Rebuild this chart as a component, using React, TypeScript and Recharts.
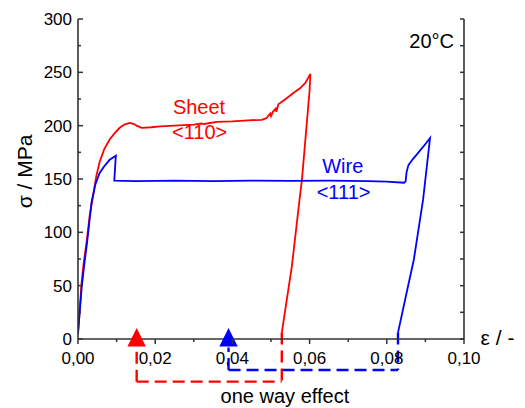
import React from 'react';
import { ComposedChart, Line, XAxis, YAxis, ReferenceLine, ReferenceDot } from 'recharts';

// Sheet <110> stress-strain curve (strain, stress in MPa)
const sheetStrain = [0, 0.0005, 0.0009, 0.0015, 0.0022, 0.003, 0.0039, 0.0047, 0.0056, 0.0068, 0.0082, 0.0095, 0.0108, 0.012, 0.0134, 0.0145, 0.0152, 0.0165, 0.019, 0.0212, 0.025, 0.03, 0.032, 0.0325, 0.0342, 0.036, 0.04, 0.044, 0.0476, 0.0488, 0.0498, 0.05, 0.0505, 0.0512, 0.0514, 0.0519, 0.0538, 0.0558, 0.0575, 0.0589, 0.0602, 0.06, 0.058, 0.0574, 0.0554, 0.0528];
const sheetStress = [5, 30, 52, 72, 90, 115, 134, 152, 166, 178, 187, 193, 198, 201, 202.5, 201.5, 200, 198, 198.5, 199.3, 200, 201, 202, 201.5, 202.5, 203.5, 204, 205, 205.5, 207, 211.5, 209, 213, 216, 213, 220, 225, 230.6, 235, 240, 248.5, 233, 148.7, 131, 68, 6];

// Wire <111> stress-strain curve
const wireStrain = [0, 0.0005, 0.001, 0.0017, 0.0024, 0.0035, 0.0045, 0.0056, 0.0068, 0.0082, 0.0098, 0.0094, 0.015, 0.025, 0.035, 0.045, 0.055, 0.065, 0.075, 0.08, 0.0845, 0.0849, 0.0851, 0.0856, 0.0866, 0.088, 0.0896, 0.0912, 0.0894, 0.087, 0.0853, 0.0829];
const wireStress = [5, 28, 50, 72, 92, 128, 145, 155.6, 162, 168, 171.8, 148.4, 148, 148.5, 148, 148.5, 148.2, 148.5, 148, 147.5, 146.5, 148, 156, 163, 168, 174, 181, 188.4, 130.6, 74.3, 46.2, 6];

// Recovered strain markers (one way effect)
const sheetRecoveredStrain = 0.0152;
const sheetUnloadedStrain = 0.0528;
const wireRecoveredStrain = 0.039;
const wireUnloadedStrain = 0.0829;

const xTicks = [0, 0.01, 0.02, 0.03, 0.04, 0.05, 0.06, 0.07, 0.08, 0.09, 0.1];
const yTicks = [0, 25, 50, 75, 100, 125, 150, 175, 200, 225, 250, 275, 300];

const sheetData = sheetStrain.map((e, i) => ({ e, s: sheetStress[i] }));
const wireData = wireStrain.map((e, i) => ({ e, s: wireStress[i] }));

const FONT = '"Liberation Sans", Arial, sans-serif';
const AXIS = '#333';
const RED = '#ff0000';
const BLUE = '#0000ff';

const isMajorX = (v: number) => Math.round(v * 100) % 2 === 0;
const isMajorY = (v: number) => Math.round(v) % 50 === 0;
const fmtX = (v: number) => v.toFixed(2).replace('.', ',');

const BottomTick = (props: any) => {
  const { x, y, payload } = props;
  const major = isMajorX(payload.value);
  return (
    <g>
      <line x1={x} y1={y} x2={x} y2={y + (major ? 5 : 3)} stroke={AXIS} strokeWidth={1.5} />
      {major && (
        <text x={x} y={y + 25} textAnchor="middle" fontSize={17} fontFamily={FONT} fill="#000">
          {fmtX(payload.value)}
        </text>
      )}
    </g>
  );
};

const LeftTick = (props: any) => {
  const { x, y, payload } = props;
  const major = isMajorY(payload.value);
  return (
    <g>
      <line x1={x} y1={y} x2={x + (major ? 5 : 3)} y2={y} stroke={AXIS} strokeWidth={1.5} />
      {major && (
        <text x={x - 6} y={y} dy="0.36em" textAnchor="end" fontSize={17} fontFamily={FONT} fill="#000">
          {payload.value}
        </text>
      )}
    </g>
  );
};

const TopTick = (props: any) => {
  const { x, y } = props;
  return <line x1={x} y1={y} x2={x} y2={y + 4} stroke={AXIS} strokeWidth={1.5} />;
};

const RightTick = (props: any) => {
  const { x, y } = props;
  return <line x1={x} y1={y} x2={x - 4} y2={y} stroke={AXIS} strokeWidth={1.5} />;
};

const triangle = (color: string) => (p: any) => (
  <polygon
    points={`${p.cx},${p.cy - 11} ${p.cx - 9.2},${p.cy + 7.4} ${p.cx + 9.2},${p.cy + 7.4}`}
    fill={color}
  />
);

const textShape = (text: string, color: string, size: number, anchor: string = 'middle', rotate = false) => (p: any) => (
  <text
    x={p.cx}
    y={p.cy}
    textAnchor={anchor}
    fontSize={size}
    fontFamily={FONT}
    fill={color}
    dominantBaseline={rotate ? 'central' : undefined}
    transform={rotate ? `rotate(-90, ${p.cx}, ${p.cy})` : undefined}
  >
    {text}
  </text>
);

const dash = { strokeDasharray: '12 6', strokeWidth: 2.4 };

export default function App() {
  return (
    <div style={{ position: 'absolute', left: 0, top: 0 }}>
      <ComposedChart width={525} height={408} margin={{ top: 19, right: 0, bottom: 0, left: 0 }}>
        <XAxis
          xAxisId={0}
          dataKey="e"
          type="number"
          domain={[0, 0.1]}
          allowDataOverflow
          ticks={xTicks}
          interval={0}
          height={69}
          tickSize={0}
          tickMargin={0}
          tick={BottomTick}
          tickLine={false}
          axisLine={{ stroke: AXIS, strokeWidth: 1.6 }}
        />
        <XAxis
          xAxisId="top"
          orientation="top"
          type="number"
          domain={[0, 0.1]}
          allowDataOverflow
          ticks={xTicks}
          interval={0}
          height={0}
          tickSize={0}
          tickMargin={0}
          tick={TopTick}
          tickLine={false}
          axisLine={{ stroke: AXIS, strokeWidth: 1.6 }}
        />
        <YAxis
          yAxisId={0}
          type="number"
          domain={[0, 300]}
          allowDataOverflow
          ticks={yTicks}
          interval={0}
          width={78}
          tickSize={0}
          tickMargin={0}
          tick={LeftTick}
          tickLine={false}
          axisLine={{ stroke: AXIS, strokeWidth: 1.6 }}
        />
        <YAxis
          yAxisId="right"
          orientation="right"
          type="number"
          domain={[0, 300]}
          allowDataOverflow
          ticks={yTicks}
          interval={0}
          width={61}
          tickSize={0}
          tickMargin={0}
          tick={RightTick}
          tickLine={false}
          axisLine={{ stroke: AXIS, strokeWidth: 1.6 }}
        />

        <Line data={sheetData} dataKey="s" type="linear" stroke={RED} strokeWidth={1.8} dot={false} isAnimationActive={false} />
        <Line data={wireData} dataKey="s" type="linear" stroke={BLUE} strokeWidth={1.8} dot={false} isAnimationActive={false} />

        {/* one way effect dashed paths */}
        <ReferenceLine segment={[{ x: sheetUnloadedStrain, y: 6 }, { x: sheetUnloadedStrain, y: -40 }]} stroke={RED} {...dash} ifOverflow="visible" />
        <ReferenceLine segment={[{ x: sheetRecoveredStrain, y: -40 }, { x: sheetUnloadedStrain, y: -40 }]} stroke={RED} {...dash} ifOverflow="visible" />
        <ReferenceLine segment={[{ x: sheetRecoveredStrain, y: -40 }, { x: sheetRecoveredStrain, y: -8 }]} stroke={RED} {...dash} ifOverflow="visible" />
        <ReferenceLine segment={[{ x: wireUnloadedStrain, y: 6 }, { x: wireUnloadedStrain, y: -29 }]} stroke={BLUE} {...dash} ifOverflow="visible" />
        <ReferenceLine segment={[{ x: wireRecoveredStrain, y: -29 }, { x: wireUnloadedStrain, y: -29 }]} stroke={BLUE} {...dash} ifOverflow="visible" />
        <ReferenceLine segment={[{ x: wireRecoveredStrain, y: -29 }, { x: wireRecoveredStrain, y: -8 }]} stroke={BLUE} {...dash} ifOverflow="visible" />

        <ReferenceDot x={sheetRecoveredStrain} y={0} r={9} ifOverflow="visible" shape={triangle(RED)} />
        <ReferenceDot x={wireRecoveredStrain} y={0} r={9} ifOverflow="visible" shape={triangle(BLUE)} />

        {/* annotations */}
        <ReferenceDot x={0.03135} y={211.2} r={1} ifOverflow="visible" shape={textShape('Sheet', RED, 20)} />
        <ReferenceDot x={0.0315} y={187.8} r={1} ifOverflow="visible" shape={textShape('<110>', RED, 20)} />
        <ReferenceDot x={0.0686} y={155.9} r={1} ifOverflow="visible" shape={textShape('Wire', BLUE, 20)} />
        <ReferenceDot x={0.0688} y={131.5} r={1} ifOverflow="visible" shape={textShape('<111>', BLUE, 20)} />
        <ReferenceDot x={0.0974} y={273} r={1} ifOverflow="visible" shape={textShape('20°C', '#000', 20, 'end')} />
        <ReferenceDot x={0.0536} y={-59.7} r={1} ifOverflow="visible" shape={textShape('one way effect', '#000', 20)} />
        <ReferenceDot x={0.1043} y={-5.3} r={1} ifOverflow="visible" shape={textShape('ε / -', '#000', 21, 'start')} />
        <ReferenceDot x={-0.01384} y={157.1} r={1} ifOverflow="visible" shape={textShape('σ / MPa', '#000', 21, 'middle', true)} />
      </ComposedChart>
    </div>
  );
}
